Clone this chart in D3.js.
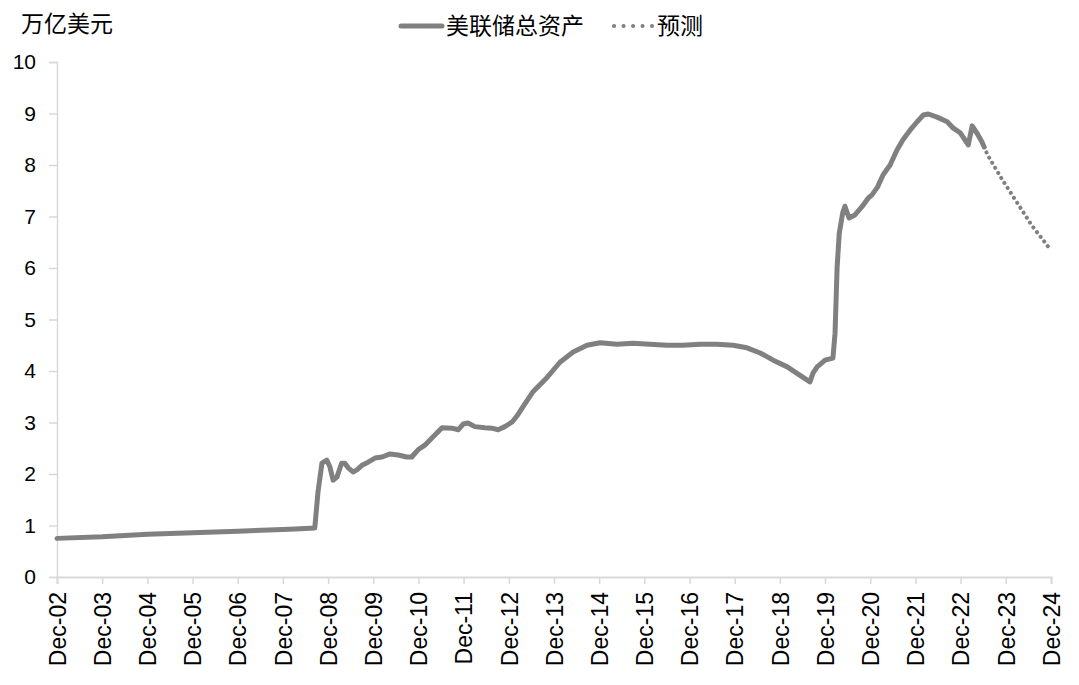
<!DOCTYPE html>
<html><head><meta charset="utf-8">
<script src="https://cdn.jsdelivr.net/npm/d3@7/dist/d3.min.js"></script>
<style>
body{margin:0;background:#fff;}
svg{display:block;}
</style></head>
<body><svg id="c" width="1079" height="685"></svg>
<script>
// Fed total assets (trillion USD)
const actualDates = ["2002-12-01","2003-12-01","2004-12-01","2005-12-01","2006-12-01","2007-12-01","2008-03-10","2008-08-15","2008-09-10","2008-10-12","2008-11-20","2008-12-15","2009-01-10","2009-02-10","2009-03-20","2009-04-15","2009-05-12","2009-06-20","2009-07-22","2009-09-01","2009-10-20","2009-12-15","2010-02-10","2010-04-15","2010-06-20","2010-08-28","2010-10-08","2010-11-28","2011-01-22","2011-03-20","2011-06-10","2011-08-28","2011-10-20","2011-11-28","2012-01-05","2012-03-01","2012-05-20","2012-07-18","2012-09-05","2012-10-30","2012-12-28","2013-02-12","2013-03-10","2013-06-12","2013-10-08","2014-01-18","2014-05-05","2014-08-25","2014-12-08","2015-04-22","2015-09-02","2016-01-15","2016-06-02","2016-10-08","2017-02-25","2017-07-08","2017-11-18","2018-03-10","2018-06-25","2018-10-08","2019-01-30","2019-05-10","2019-08-01","2019-08-26","2019-09-28","2019-10-18","2019-12-01","2020-02-03","2020-02-20","2020-03-08","2020-03-25","2020-04-22","2020-05-10","2020-06-12","2020-07-30","2020-09-25","2020-11-15","2020-12-15","2021-01-28","2021-03-15","2021-05-10","2021-07-05","2021-08-22","2021-10-20","2021-12-15","2022-02-03","2022-03-15","2022-05-25","2022-08-15","2022-10-01","2022-11-30","2023-02-01","2023-03-05","2023-04-12","2023-05-22","2023-06-10"];
const actualValues = [0.75,0.78,0.83,0.86,0.89,0.92,0.93,0.95,1.65,2.21,2.27,2.14,1.88,1.94,2.21,2.21,2.12,2.04,2.08,2.17,2.23,2.31,2.33,2.39,2.37,2.33,2.33,2.47,2.56,2.70,2.90,2.89,2.86,2.97,2.99,2.92,2.90,2.89,2.86,2.92,3.01,3.15,3.25,3.59,3.88,4.17,4.37,4.50,4.55,4.52,4.54,4.52,4.50,4.50,4.52,4.52,4.50,4.45,4.35,4.21,4.08,3.92,3.79,3.96,4.08,4.12,4.21,4.25,4.73,6.02,6.67,7.07,7.20,6.97,7.03,7.19,7.36,7.42,7.57,7.81,8.00,8.29,8.49,8.68,8.84,8.97,8.99,8.93,8.84,8.72,8.62,8.39,8.76,8.62,8.45,8.35];
const forecastDates = ["2023-06-10","2023-07-08","2023-10-30","2024-02-28","2024-06-28","2024-11-10"];
const forecastValues = [8.35,8.19,7.73,7.28,6.83,6.41];
const tickDates = ["2002-12-01","2003-12-01","2004-12-01","2005-12-01","2006-12-01","2007-12-01","2008-12-01","2009-12-01","2010-12-01","2011-12-01","2012-12-01","2013-12-01","2014-12-01","2015-12-01","2016-12-01","2017-12-01","2018-12-01","2019-12-01","2020-12-01","2021-12-01","2022-12-01","2023-12-01","2024-12-01"];
const tickLabels = ["Dec-02","Dec-03","Dec-04","Dec-05","Dec-06","Dec-07","Dec-08","Dec-09","Dec-10","Dec-11","Dec-12","Dec-13","Dec-14","Dec-15","Dec-16","Dec-17","Dec-18","Dec-19","Dec-20","Dec-21","Dec-22","Dec-23","Dec-24"];
const yTicks = [0,1,2,3,4,5,6,7,8,9,10];
const yTitle = "万亿美元";
const seriesNames = ["美联储总资产","预测"];

const parse = d3.timeParse("%Y-%m-%d");
const actual = actualDates.map((d,i)=>({d:parse(d),v:actualValues[i]}));
const forecast = forecastDates.map((d,i)=>({d:parse(d),v:forecastValues[i]}));
const ticks = tickDates.map(parse);

const svg = d3.select("#c");
const L=57, R=1051, T=62, B=577;
const x = d3.scaleTime().domain([ticks[0], ticks[ticks.length-1]]).range([L,R]);
const y = d3.scaleLinear().domain([0,10]).range([B,T]);
const axisCol = "#d9d9d9";
const lineCol = "#808080";
const numFont = "'Liberation Sans', Arial, sans-serif";
const cjkFont = "'Noto Sans CJK SC', sans-serif";

// Y axis
const ya = svg.append("g").attr("transform",`translate(${L},0)`)
  .call(d3.axisLeft(y).tickValues(yTicks).tickSize(8).tickPadding(13).tickFormat(d3.format("d")));
ya.select(".domain").attr("stroke",axisCol).attr("stroke-width",1.5);
ya.selectAll(".tick line").attr("stroke",axisCol).attr("stroke-width",1.5);
ya.selectAll(".tick text").attr("font-family",numFont).attr("font-size",21).attr("fill","#000");

// X axis
const xa = svg.append("g").attr("transform",`translate(0,${B})`)
  .call(d3.axisBottom(x).tickValues(ticks).tickSize(7).tickFormat((d,i)=>tickLabels[i]));
xa.select(".domain").attr("stroke",axisCol).attr("stroke-width",2);
xa.selectAll(".tick line").attr("stroke",axisCol).attr("stroke-width",1.5);
xa.selectAll(".tick text")
  .attr("font-family",numFont).attr("font-size",23).attr("fill","#000")
  .attr("text-anchor","end").attr("transform","rotate(-90)")
  .attr("x",-15).attr("y",0).attr("dy","0.36em");

// Y title
svg.append("text").attr("x",21).attr("y",32).attr("font-family",cjkFont)
  .attr("font-size",23).attr("fill","#000").text(yTitle);

// lines
const line = d3.line().x(d=>x(d.d)).y(d=>y(d.v)).curve(d3.curveLinear);
svg.append("path").datum(actual).attr("d",line).attr("fill","none")
  .attr("stroke",lineCol).attr("stroke-width",5).attr("stroke-linejoin","round").attr("stroke-linecap","round");
svg.append("path").datum(forecast).attr("d",line).attr("fill","none")
  .attr("stroke",lineCol).attr("stroke-width",4).attr("stroke-linecap","round")
  .attr("stroke-dasharray","0.1,5.8");

// legend
const lg = svg.append("g");
lg.append("line").attr("x1",401).attr("x2",442).attr("y1",26).attr("y2",26)
  .attr("stroke",lineCol).attr("stroke-width",5).attr("stroke-linecap","round");
lg.append("text").attr("x",446).attr("y",34).attr("font-family",cjkFont)
  .attr("font-size",23).attr("fill","#000").text(seriesNames[0]);
lg.append("line").attr("x1",614).attr("x2",652).attr("y1",26).attr("y2",26)
  .attr("stroke",lineCol).attr("stroke-width",4).attr("stroke-linecap","round").attr("stroke-dasharray","0.1,9.4");
lg.append("text").attr("x",657).attr("y",34).attr("font-family",cjkFont)
  .attr("font-size",23).attr("fill","#000").text(seriesNames[1]);
</script></body></html>
